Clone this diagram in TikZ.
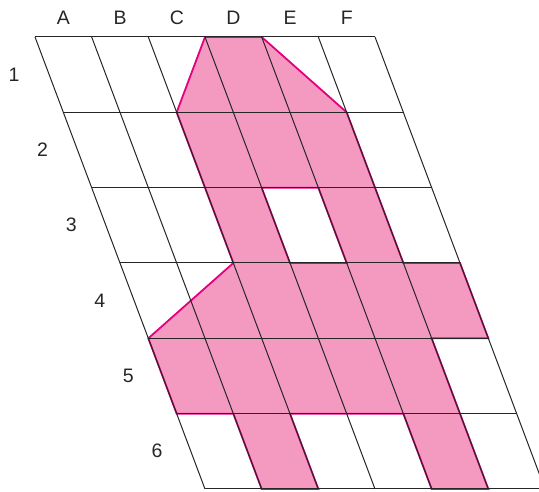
\documentclass[tikz,border=0pt]{standalone}
\usepackage{fontspec}
\setmainfont{Liberation Sans}
\definecolor{pinkfill}{HTML}{F49AC1}
\definecolor{magline}{HTML}{E5007E}
\begin{document}
\begin{tikzpicture}[x=1pt,y=1pt,
  lab/.style={font=\fontsize{19.5}{21}\selectfont, text=black!85, inner sep=0pt},
  gridline/.style={line width=1pt, black!85},
  outline/.style={line width=1.8pt, magline, line join=miter}]
\useasboundingbox (0,0) rectangle (539,491);
\clip (0,0) rectangle (539,491);
\foreach \i in {0,...,6}{
  \foreach \j in {0,...,6}{
    \coordinate (p\i\j) at ({35+56.67*\i+28.33*\j},{454-75.33*\j});
  }
}
\fill[pinkfill, even odd rule]
  (p30)--(p40)--(p51)--(p53)--(p63)--(p64)--(p54)--(p56)--(p46)--(p45)--(p25)--(p26)--(p16)--(p15)--(p05)--(p04)--(p23)--(p21)--cycle
  (p32)--(p42)--(p43)--(p33)--cycle;
\draw[outline]
  (p30)--(p40)--(p51)--(p53)--(p63)--(p64)--(p54)--(p56)--(p46)--(p45)--(p25)--(p26)--(p16)--(p15)--(p05)--(p04)--(p23)--(p21)--cycle
  (p32)--(p42)--(p43)--(p33)--cycle;
\foreach \k in {0,...,6}{
  \draw[gridline] (p0\k)--(p6\k);
  \draw[gridline] (p\k0)--(p\k6);
}
\foreach \c [count=\n from 0] in {A,B,C,D,E,F}{
  \node[lab] (col\c) at ({63.5+56.67*\n},473) {\c};
}
\foreach \r [count=\n from 0] in {1,2,3,4,5,6}{
  \node[lab] (row\r) at ({14+28.6*\n},{416.5-75.33*\n}) {\r};
}
\end{tikzpicture}
\end{document}
